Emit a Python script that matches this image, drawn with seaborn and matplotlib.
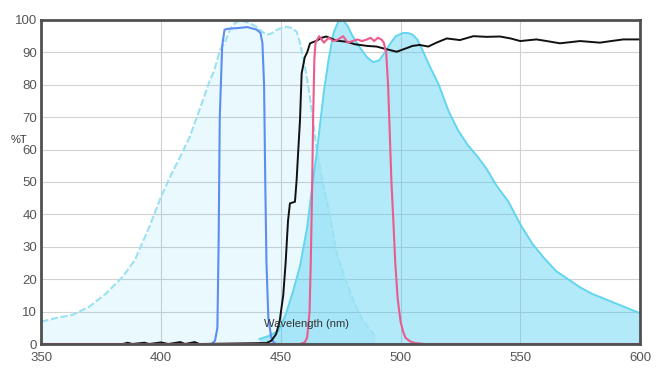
import numpy as np
import pandas as pd
import matplotlib
matplotlib.use("Agg")
import matplotlib.pyplot as plt
import seaborn as sns

# excitation spectrum (dashed, light fill)
ex_wl = [350, 356, 363, 370, 377, 384, 389, 395, 400, 404, 408, 412, 416, 420.4, 422,
         424.6, 426.6, 428.7, 430.5, 432.9, 435, 437, 440, 442, 444, 446, 448, 450,
         452.4, 454.5, 456.6, 458, 460, 462, 465, 468, 471, 473, 476, 479, 481.5,
         484, 487, 489.2]
ex_val = [6.9, 8, 9, 11.5, 15.6, 20.8, 25.9, 36, 45.5, 52, 57.8, 64, 72.2, 81.5, 84,
          90.7, 93, 96.9, 98.8, 100, 99.5, 99, 97.8, 96.5, 95.4, 95.8, 96.8, 97.5,
          97.9, 97.5, 96.4, 93, 86, 77, 60, 48, 38, 29, 22, 16, 11.5, 7.5, 4.5, 2.8]

# emission spectrum (solid, cyan fill)
em_wl = [441, 445, 449, 452, 455, 458, 461, 463, 465, 468, 470, 472, 474, 476, 478,
         480, 483, 486, 488.5, 491, 493, 495.5, 498, 501, 503, 505, 507, 509, 512,
         516, 520, 524, 528, 532, 536, 540, 545, 550, 555, 560, 565, 570, 575, 580,
         585, 590, 595, 600]
em_val = [1.5, 2.5, 4, 9, 16, 24, 36, 48, 59, 78, 88, 96, 99.5, 100, 98, 95, 91.5,
          88.5, 87, 87.5, 89.5, 92.5, 95, 96, 96, 95.5, 94, 91, 86, 80, 72, 66, 61.5,
          58, 54, 49, 44, 37, 31, 26.5, 22.5, 20, 17.5, 15.5, 14, 12.5, 11, 9.5]

# excitation filter (blue)
bp_wl = [350, 421, 422.5, 423.5, 424, 424.5, 425.5, 426.5, 428, 432, 436, 440, 441.5,
         442.3, 443, 443.5, 444, 444.8, 446, 447, 448, 600]
bp_val = [0, 0, 1, 5, 30, 70, 92, 97, 97.3, 97.5, 97.8, 97, 96, 93, 80, 50, 25, 8,
          2, 0.5, 0, 0]

# dichroic mirror (black)
dm_wl = [350, 384, 386, 388, 393, 395, 400, 403, 408, 410, 414, 416, 444, 446, 448,
         449.5, 451, 452, 453, 453.8, 455.9, 456.6, 457.3, 458, 458.7, 460, 461,
         462.2, 465, 467, 469, 471, 473.3, 477.5, 481, 486, 490, 494, 498.4, 502.5,
         505, 508, 511.6, 515, 519.3, 524.8, 530.4, 536, 541.5, 546, 550, 556.8,
         561, 566.6, 575, 583.3, 588, 593, 600]
dm_val = [0, 0, 0.4, 0, 0.4, 0, 0.5, 0, 0.6, 0, 0.6, 0, 0.3, 1, 3, 7, 15, 25, 38,
          43.4, 43.9, 50.6, 60, 69, 83.5, 88.5, 90, 92.8, 93.6, 94.5, 94.9, 94.3,
          93.6, 93.3, 92.5, 92, 91.8, 91, 90.2, 91.3, 92, 92.3, 91.8, 93, 94.3, 93.8,
          95, 94.8, 94.9, 94.3, 93.5, 94, 93.5, 92.8, 93.5, 93, 93.5, 94, 94]

# emission filter (pink)
ef_wl = [350, 458, 460, 461, 462, 462.5, 463, 463.5, 464, 464.5, 466, 468, 470, 472,
         474, 476, 478, 480, 482, 484, 486, 487.5, 489, 490.5, 492, 493, 494, 494.8,
         495.5, 496.2, 497, 497.8, 498.8, 500, 501, 502, 504, 506, 510, 600]
ef_val = [0, 0, 0.5, 2, 10, 25, 45, 70, 88, 93, 95, 93, 94.5, 93.5, 94, 95, 93, 93.5,
          94, 93.5, 94, 94.5, 93.5, 94.5, 94, 93, 90, 80, 65, 50, 38, 25, 14, 7, 4,
          2, 0.8, 0.3, 0, 0]

x_ticks = [350, 400, 450, 500, 550, 600]
y_ticks = list(range(0, 101, 10))

sns.set_style("white")
plt.rcParams["font.family"] = ["Liberation Sans", "DejaVu Sans"]

fig = plt.figure(figsize=(6.68, 3.77), dpi=100)
ax = fig.add_axes([0.062, 0.0875, 0.896, 0.8595])

ax.grid(True, color="#d2d2d2", linewidth=0.8, zorder=0)
ax.set_axisbelow(True)

fill_c = "#33c7f0"
ax.fill_between(ex_wl, ex_val, 0, color=fill_c, alpha=0.1, linewidth=0, zorder=1)
ax.fill_between(em_wl, em_val, 0, color=fill_c, alpha=0.37, linewidth=0, zorder=2)

sns.lineplot(x=ex_wl, y=ex_val, ax=ax, color="#9be1f2", linewidth=1.5,
             linestyle=(0, (3.5, 1.2)), sort=False, zorder=3)
sns.lineplot(x=em_wl, y=em_val, ax=ax, color="#62d5ef", linewidth=1.4, sort=False, zorder=3)
sns.lineplot(x=bp_wl, y=bp_val, ax=ax, color="#5a8ef0", linewidth=1.5, sort=False, zorder=4)
sns.lineplot(x=dm_wl, y=dm_val, ax=ax, color="#111111", linewidth=1.4, sort=False, zorder=5)
sns.lineplot(x=ef_wl, y=ef_val, ax=ax, color="#ec5b8e", linewidth=1.5, sort=False, zorder=6)

ax.set_xlim(350, 600)
ax.set_ylim(0, 100)
ax.set_xticks(x_ticks)
ax.set_yticks(y_ticks)
ax.tick_params(axis="both", length=0, labelsize=9.5, labelcolor="#555555")
ax.tick_params(axis="x", pad=6)
ax.tick_params(axis="y", pad=3)
ax.set_xlabel("")
ax.set_ylabel("")

for side in ["left", "right", "top", "bottom"]:
    ax.spines[side].set_visible(True)
    ax.spines[side].set_color("#505050")
    ax.spines[side].set_linewidth(2)
    ax.spines[side].set_zorder(7)

ax.text(0.4436, 0.062, "Wavelength (nm)", transform=ax.transAxes, ha="center",
        va="center", fontsize=8, color="#333333", zorder=8)
fig.text(0.028, 0.629, "%T", ha="center", va="center", fontsize=8, color="#333333")

plt.savefig("out.png", dpi=100)
plt.close()
